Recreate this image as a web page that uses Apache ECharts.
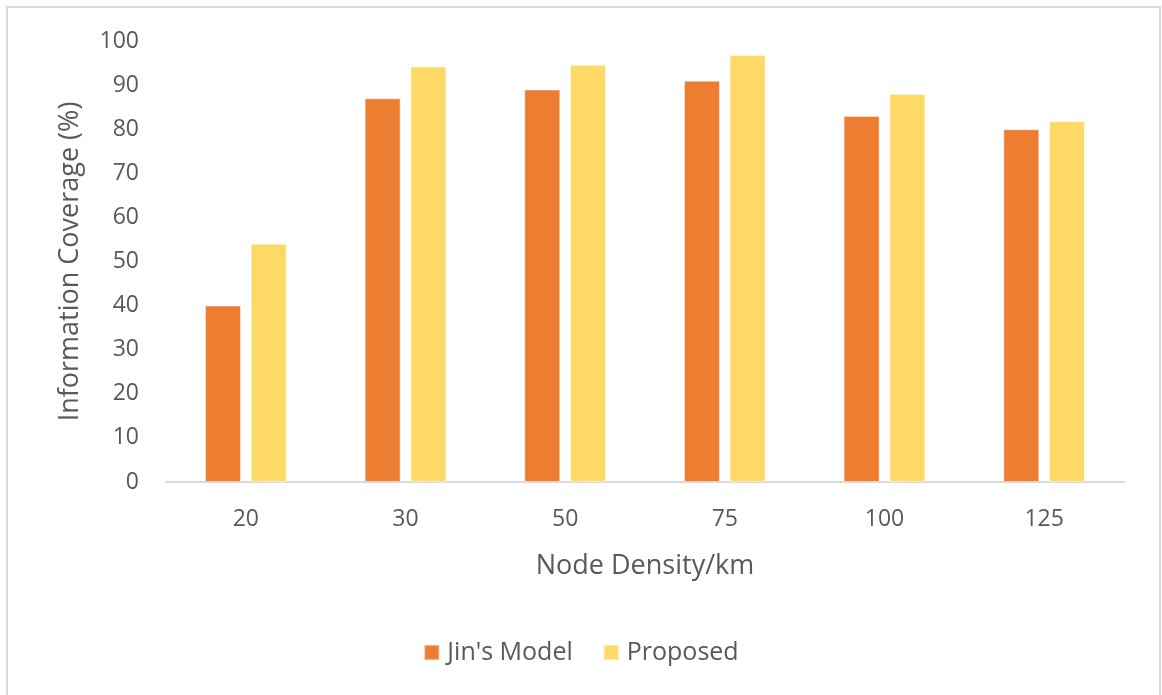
<!DOCTYPE html>
<html>
<head>
<meta charset="utf-8">
<script src="https://cdn.jsdelivr.net/npm/echarts@6/dist/echarts.min.js"></script>
<style>
  html, body { margin: 0; padding: 0; background: #ffffff; }
  #frame {
    position: absolute; left: 6px; top: 6px; width: 1155px; height: 700px;
    border: 2px solid #d9d9d9; box-sizing: border-box;
  }
  #chart { position: absolute; left: 0; top: 0; width: 1162px; height: 695px; }
</style>
</head>
<body>
<div id="frame"></div>
<div id="chart"></div>
<script>
// Node densities (per km) on the x axis
const densities = ['20', '30', '50', '75', '100', '125'];
// Information coverage (%) for each approach
const jinsModel = [40, 87, 89, 91, 83, 80];
const proposed = [54, 94.2, 94.6, 96.8, 88, 81.8];
// Value axis ticks
const yMin = 0, yMax = 100, yStep = 10;

const font = '"Open Sans", "Noto Sans", sans-serif';
const textColor = '#595959';

const chart = echarts.init(document.getElementById('chart'), null, { renderer: 'canvas' });
chart.setOption({
  backgroundColor: 'transparent',
  animation: false,
  textStyle: { fontFamily: font, color: textColor },
  grid: { left: 166, right: 38, top: 41, bottom: 213, containLabel: false },
  legend: {
    bottom: 25,
    left: 'center',
    itemWidth: 15,
    itemHeight: 15,
    itemGap: 30,
    icon: 'rect',
    textStyle: { fontFamily: font, fontSize: 25, color: textColor, padding: [0, 0, 0, 3] },
    data: ["Jin's Model", 'Proposed']
  },
  xAxis: {
    type: 'category',
    data: densities,
    name: 'Node Density/km',
    nameLocation: 'middle',
    nameGap: 71,
    nameTextStyle: { fontFamily: font, fontSize: 27, color: textColor },
    axisLine: { show: true, lineStyle: { color: '#d9d9d9', width: 2 } },
    axisTick: { show: false },
    axisLabel: { fontFamily: font, fontSize: 23, color: textColor, margin: 26 }
  },
  yAxis: {
    type: 'value',
    min: yMin,
    max: yMax,
    interval: yStep,
    name: 'Information Coverage (%)',
    nameLocation: 'middle',
    nameGap: 82,
    nameTextStyle: { fontFamily: font, fontSize: 27, color: textColor },
    axisLine: { show: false },
    axisTick: { show: false },
    splitLine: { show: false },
    axisLabel: { fontFamily: font, fontSize: 23, color: textColor, margin: 27 }
  },
  series: [
    {
      name: "Jin's Model",
      type: 'bar',
      data: jinsModel,
      barWidth: 36,
      barGap: '27%',
      itemStyle: { color: '#ed7d31', borderColor: 'rgba(255,255,255,0.45)', borderWidth: 1 }
    },
    {
      name: 'Proposed',
      type: 'bar',
      data: proposed,
      barWidth: 36,
      itemStyle: { color: '#ffd966', borderColor: 'rgba(255,255,255,0.45)', borderWidth: 1 }
    }
  ]
});
</script>
</body>
</html>
